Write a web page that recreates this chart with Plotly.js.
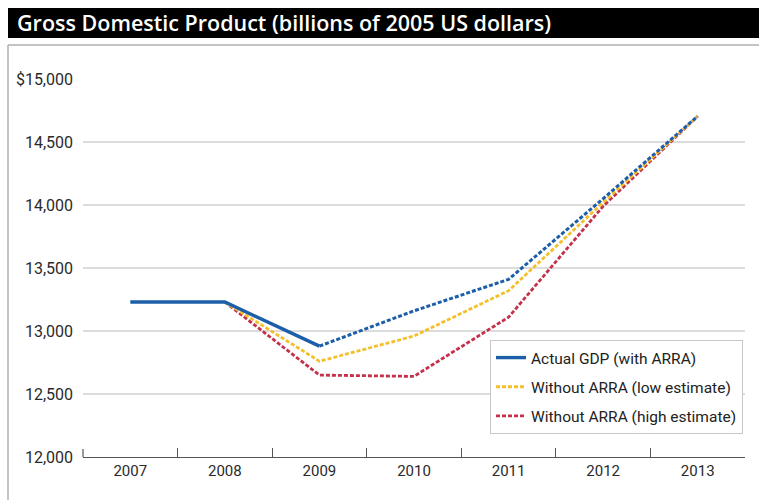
<!DOCTYPE html>
<html>
<head>
<meta charset="utf-8">
<script src="https://cdn.plot.ly/plotly-3.0.1.min.js"></script>
<style>html,body{margin:0;padding:0;background:#fff;}#chart{width:759px;height:500px;}</style>
</head>
<body>
<div id="chart"></div>
<script>
// ---- data ----
const years = ['2007', '2008', '2009', '2010', '2011', '2012', '2013'];
const actualGDP = [13230, 13230, 12880, 13160, 13410, 14050, 14705];
const lowEstimate = [null, 13230, 12760, 12960, 13320, 14020, 14705];
const highEstimate = [null, 13230, 12650, 12640, 13110, 13990, 14705];
const yTickVals = [12000, 12500, 13000, 13500, 14000, 14500, 15000];
const yTickText = ['12,000', '12,500', '13,000', '13,500', '14,000', '14,500', '$15,000'];
const seriesNames = ['Actual GDP (with ARRA)', 'Without ARRA (low estimate)', 'Without ARRA (high estimate)'];
const chartTitle = 'Gross Domestic Product (billions of 2005 US dollars)';

// ---- geometry helpers ----
const W = 759, H = 500;
const M = {l: 83, r: 14, t: 79, b: 43};
const PW = W - M.l - M.r, PH = H - M.t - M.b;
const px = x => (x - M.l) / PW;
const py = y => (H - M.b - y) / PH;

const FONT = '"Roboto", sans-serif';
const BLUE = '#1d5ea8', YELLOW = '#f3c02c', RED = '#c3314b';

const splitIdx = 2; // actual line dashed from 2009 on
const traces = [
  {x: years, y: highEstimate, name: seriesNames[2], mode: 'lines', legendrank: 3, legendgroup: 'c',
   line: {color: RED, width: 2.8, dash: '4px,2px'}},
  {x: years, y: lowEstimate, name: seriesNames[1], mode: 'lines', legendrank: 2, legendgroup: 'b',
   line: {color: YELLOW, width: 2.8, dash: '4px,2px'}},
  {x: years.slice(splitIdx), y: actualGDP.slice(splitIdx), name: seriesNames[0], mode: 'lines',
   showlegend: false, legendgroup: 'a', line: {color: BLUE, width: 3, dash: '4px,2px'}},
  {x: years.slice(0, splitIdx + 1), y: actualGDP.slice(0, splitIdx + 1), name: seriesNames[0], mode: 'lines',
   legendrank: 1, legendgroup: 'a', line: {color: BLUE, width: 3.4}}
];

const layout = {
  width: W, height: H,
  margin: M,
  paper_bgcolor: '#fff', plot_bgcolor: '#fff',
  font: {family: FONT, color: '#333', size: 14},
  title: {
    text: chartTitle, xref: 'container', yref: 'container',
    x: 17 / W, xanchor: 'left', y: 1 - 23 / H, yanchor: 'middle',
    font: {family: '"Open Sans", sans-serif', size: 21.5, color: '#fff', weight: 600}
  },
  xaxis: {
    type: 'category', tickson: 'boundaries', ticks: 'inside', ticklen: 9,
    tickcolor: '#555', tickwidth: 1.2, showline: true, linecolor: '#555', linewidth: 1.2,
    showgrid: false, range: [-0.5, 6.5], fixedrange: true,
    tickfont: {family: FONT, size: 15, color: '#2a2a2a'}
  },
  yaxis: {
    range: [12000, 15000], tickvals: yTickVals, ticktext: yTickText,
    showgrid: true, gridcolor: '#dcdcdc', gridwidth: 1.5, zeroline: false,
    ticks: '', ticklabelstandoff: 9, showline: false,
    tickfont: {family: FONT, size: 16, color: '#2a2a2a'}
  },
  showlegend: true,
  legend: {
    x: px(490), y: py(340), xanchor: 'left', yanchor: 'top',
    bgcolor: '#fff', bordercolor: '#c8c8c8', borderwidth: 1,
    font: {family: FONT, size: 15.5, color: '#222'},
    traceorder: 'grouped', tracegroupgap: 6
  },
  shapes: [
    {type: 'rect', xref: 'paper', yref: 'paper', x0: px(8), x1: px(760), y0: py(38), y1: py(8),
     fillcolor: '#000', line: {width: 0}, layer: 'below'},
    {type: 'line', xref: 'paper', yref: 'paper', x0: px(8), x1: px(760), y0: py(45), y1: py(45),
     line: {color: '#b0b0b0', width: 1.5}},
    {type: 'line', xref: 'paper', yref: 'paper', x0: px(8), x1: px(8), y0: py(45), y1: py(501),
     line: {color: '#b0b0b0', width: 1.5}},
    {type: 'line', xref: 'paper', yref: 'paper', x0: px(83), x1: px(83), y0: py(457), y1: py(449),
     line: {color: '#555', width: 1.2}}
  ]
};

Plotly.newPlot('chart', traces, layout, {staticPlot: true, displayModeBar: false});
</script>
</body>
</html>
